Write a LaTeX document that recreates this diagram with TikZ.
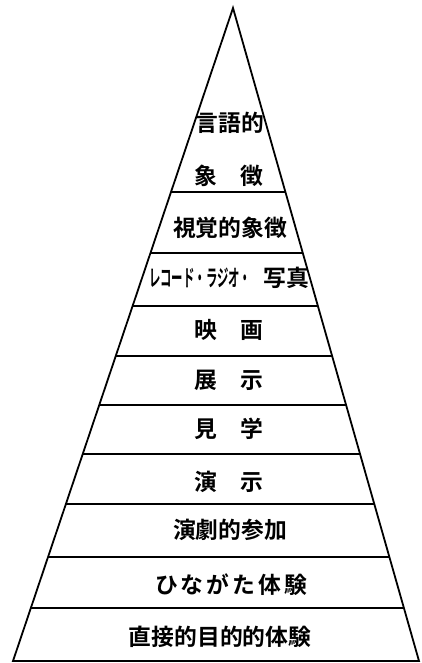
\documentclass[tikz,border=0pt]{standalone}
\usepackage{graphicx}
\usepackage{fontspec}
\usetikzlibrary{calc}
\newfontfamily\jp[BoldFont={Noto Sans CJK JP Bold}]{Noto Sans CJK JP}
\begin{document}
\begin{tikzpicture}[x=1pt,y=-1pt,line width=1.8pt,
  lbl/.style={font=\jp\bfseries\fontsize{22.8}{23}\selectfont,inner sep=0pt,anchor=base}]
\useasboundingbox (0,0) rectangle (421,663);
\coordinate (apex) at (233,8);
\coordinate (bl) at (13,661);
\coordinate (br) at (419,661);
\draw[line join=miter] (bl) -- (apex) -- (br) -- cycle;
\foreach \yy in {192,253,306,356,405,454,504,557,608}{
  \draw ($(apex)!{(\yy-8)/653}!(bl)$) -- ($(apex)!{(\yy-8)/653}!(br)$);
}
\node[lbl] (t1) at (230,132) {言語的};
\node[lbl] (t2) at (229,184) {象\hspace{23pt}徴};
\node[lbl] (t3) at (230,236) {視覚的象徴};
\node[lbl] (t4) at (229,286) {\scalebox{0.5}[1]{レコード・ラジオ・}\hspace{12pt}写真};
\node[lbl] (t5) at (229,338) {映\hspace{23pt}画};
\node[lbl] (t6) at (229,388) {展\hspace{23pt}示};
\node[lbl] (t7) at (229,437) {見\hspace{23pt}学};
\node[lbl] (t8) at (229,490) {演\hspace{23pt}示};
\node[lbl] (t9) at (230,538) {演劇的参加};
\node[lbl] (t10) at (231,593) {ひ\hspace{3pt}な\hspace{3pt}が\hspace{3pt}た\hspace{3pt}体\hspace{3pt}験};
\node[lbl] (t11) at (220,645) {直接的目的的体験};
\end{tikzpicture}
\end{document}
